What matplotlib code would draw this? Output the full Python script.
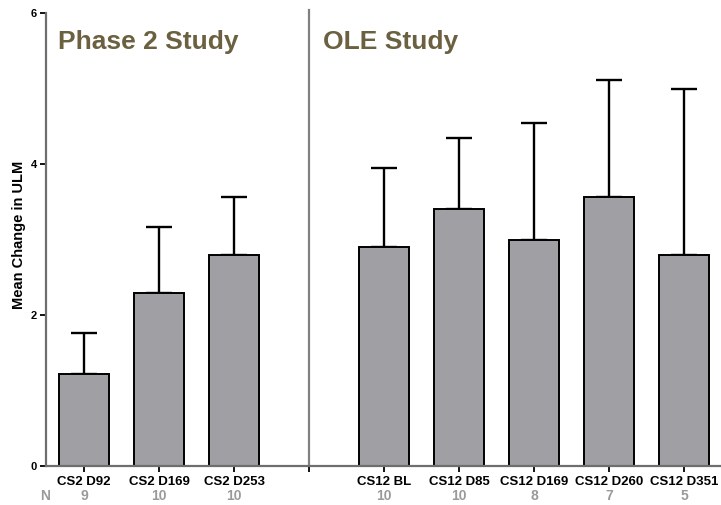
import numpy as np
import matplotlib.pyplot as plt

plt.rcParams['font.family'] = ['Liberation Sans', 'DejaVu Sans']

# Mean change in ULM with upper SD, by visit
labels = ['CS2 D92', 'CS2 D169', 'CS2 D253', '',
          'CS12 BL', 'CS12 D85', 'CS12 D169', 'CS12 D260', 'CS12 D351']
means = [1.22, 2.29, 2.79, np.nan, 2.90, 3.40, 2.99, 3.56, 2.79]
errs = [0.54, 0.88, 0.77, np.nan, 1.05, 0.94, 1.55, 1.55, 2.20]
n_counts = ['9', '10', '10', '', '10', '10', '8', '7', '5']

x = np.arange(len(labels))

fig = plt.figure(figsize=(7.21, 5.05), dpi=100)
ax = fig.add_axes([0.0638, 0.0778, 0.9362, 0.8959])

ax.bar(x, means, width=0.667, color='#a09fa4', edgecolor='black', linewidth=1.4, zorder=2)
ax.errorbar(x, means, yerr=[np.zeros(len(errs)), errs], fmt='none', ecolor='black',
            elinewidth=1.7, capsize=9.5, capthick=1.7, zorder=1)

# divider between the two studies
ax.axvline(3, ymin=0, ymax=1.007, color='#808080', linewidth=1.6, clip_on=False, zorder=0)

ax.set_xlim(-0.51, 8.49)
ax.set_ylim(0, 6)
ax.set_yticks([0, 2, 4, 6])
ax.set_xticks(x)
ax.set_xticklabels(labels, fontsize=9.5, fontweight='bold')
for lab in ax.get_yticklabels():
    lab.set_fontweight('bold')
    lab.set_fontsize(8)
ax.tick_params(axis='both', length=4.3, width=1.3, color='black', pad=2)
ax.tick_params(axis='x', pad=3)

for side in ['top', 'right']:
    ax.spines[side].set_visible(False)
for side in ['left', 'bottom']:
    ax.spines[side].set_color('#6e6e6e')
    ax.spines[side].set_linewidth(1.6)

ax.set_ylabel('Mean Change in ULM', fontsize=10.5, fontweight='bold')
ax.yaxis.set_label_coords(-0.0296, 0.51)

# sample sizes under each visit
trans = ax.get_xaxis_transform()
ax.text(-0.524, -0.067, 'N', transform=trans, ha='center', va='center',
        fontsize=10, fontweight='bold', color='#9a9a9a')
for xi, n in zip(x, n_counts):
    ax.text(xi, -0.067, n, transform=trans, ha='center', va='center',
            fontsize=10, fontweight='bold', color='#9a9a9a')

ax.text(-0.35, 5.62, 'Phase 2 Study', ha='left', va='center',
        fontsize=19, fontweight='bold', color='#6b6040')
ax.text(3.18, 5.62, 'OLE Study', ha='left', va='center',
        fontsize=19, fontweight='bold', color='#6b6040')

fig.savefig('out.png', dpi=100)
